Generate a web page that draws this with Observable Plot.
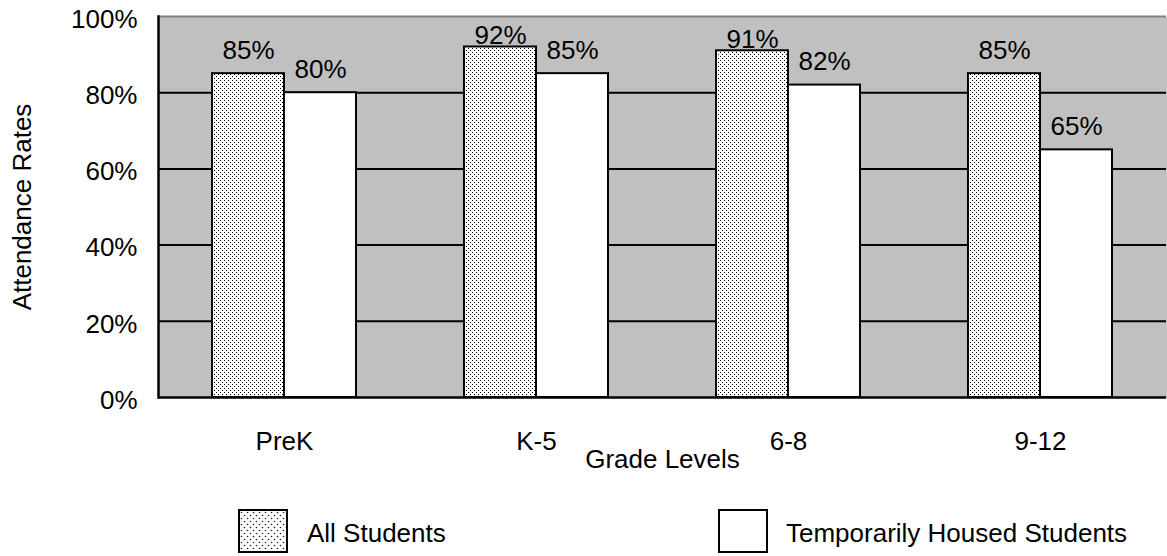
<!DOCTYPE html>
<html>
<head>
<meta charset="utf-8">
<script src="https://cdn.jsdelivr.net/npm/d3@7"></script>
<script src="https://cdn.jsdelivr.net/npm/@observablehq/plot@0.6"></script>
<style>
  html, body { margin: 0; padding: 0; background: white; overflow: hidden; }
  body { font-family: "Liberation Sans", Arial, Helvetica, sans-serif; color: black; }
  #wrap { position: relative; width: 1167px; height: 556px; }
  .sw { position: absolute; top: 509px; width: 50px; height: 44px; box-sizing: border-box; border: 2px solid black; background: white; }
  .sw svg { display: block; }
  .lt { position: absolute; top: 519px; font-size: 26px; line-height: 28px; white-space: nowrap; }
</style>
</head>
<body>
<svg width="0" height="0" style="position:absolute">
  <defs>
    <pattern id="dots" width="4" height="4" patternUnits="userSpaceOnUse">
      <rect width="4" height="4" fill="white"></rect>
      <rect x="0" y="0" width="1" height="1" fill="black"></rect>
      <rect x="2" y="2" width="1" height="1" fill="black"></rect>
    </pattern>
    <pattern id="dotsL" width="6" height="6" patternUnits="userSpaceOnUse">
      <rect width="6" height="6" fill="white"></rect>
      <circle cx="1.5" cy="1.5" r="0.8" fill="#222"></circle>
      <circle cx="4.5" cy="4.5" r="0.8" fill="#222"></circle>
    </pattern>
  </defs>
</svg>
<div id="wrap">
  <div id="chart"></div>
  <div class="sw" style="left:238px"><svg width="46" height="40"><rect width="46" height="40" fill="url(#dotsL)"></rect></svg></div>
  <div class="lt" id="lt1" style="left:307px"></div>
  <div class="sw" style="left:718px"></div>
  <div class="lt" id="lt2" style="left:786px"></div>
</div>
<script>
const grades = ["PreK", "K-5", "6-8", "9-12"];
const seriesNames = ["All Students", "Temporarily Housed Students"];
const allStudents = [85, 92, 91, 85];
const tempHoused = [80, 85, 82, 65];
const yTicks = [0, 20, 40, 60, 80, 100];
const gridTicks = [20, 40, 60, 80];

const rows = [];
grades.forEach((g, i) => {
  rows.push({grade: g, series: seriesNames[0], value: allStudents[i]});
  rows.push({grade: g, series: seriesNames[1], value: tempHoused[i]});
});

const font = "Liberation Sans, Arial, Helvetica, sans-serif";
const textOpts = {fx: "grade", x: "series", y: "value", text: d => d.value + "%", lineAnchor: "bottom", fontSize: 26, fill: "black"};

const chart = Plot.plot({
  width: 1167,
  height: 490,
  marginTop: 16,
  marginBottom: 93,
  marginLeft: 158,
  marginRight: 1,
  style: {fontFamily: font, fontSize: "26px", color: "black", background: "white", overflow: "visible"},
  fx: {domain: grades, padding: 0, label: null, axis: null},
  x: {domain: seriesNames, paddingInner: 0, paddingOuter: 0.74, axis: null},
  y: {domain: [0, 100], axis: null},
  marks: [
    Plot.frame({fill: "#c0c0c0", stroke: "none", insetLeft: -1, insetRight: -1, shapeRendering: "crispEdges"}),
    Plot.ruleY(gridTicks, {stroke: "black", strokeWidth: 2}),
    Plot.ruleY([100], {stroke: "#808080", strokeWidth: 2}),
    Plot.barY(rows.filter(d => d.series === seriesNames[0]), {fx: "grade", x: "series", y: "value", fill: "url(#dots)", stroke: "black", strokeWidth: 2}),
    Plot.barY(rows.filter(d => d.series === seriesNames[1]), {fx: "grade", x: "series", y: "value", fill: "white", stroke: "black", strokeWidth: 2}),
    Plot.ruleY([0], {stroke: "black", strokeWidth: 2.5}),
    Plot.frame({anchor: "left", facetAnchor: "left", stroke: "black", strokeWidth: 2.5}),
    Plot.text(rows.filter(d => d.value < 90), {...textOpts, dy: -15}),
    Plot.text(rows.filter(d => d.value >= 90), {...textOpts, dy: -3}),
    Plot.axisY({ticks: yTicks, tickSize: 0, tickPadding: 21, tickFormat: d => d + "%", fontSize: 26, dy: 3,
      label: "Attendance Rates", labelAnchor: "center", labelOffset: 146, labelArrow: "none"}),
    Plot.axisFx({anchor: "bottom", tickSize: 0, tickPadding: 34, fontSize: 26, label: "Grade Levels", labelAnchor: "center", labelOffset: 70, labelArrow: "none"})
  ]
});
document.getElementById("chart").appendChild(chart);
document.getElementById("lt1").textContent = seriesNames[0];
document.getElementById("lt2").textContent = seriesNames[1];
</script>
</body>
</html>
